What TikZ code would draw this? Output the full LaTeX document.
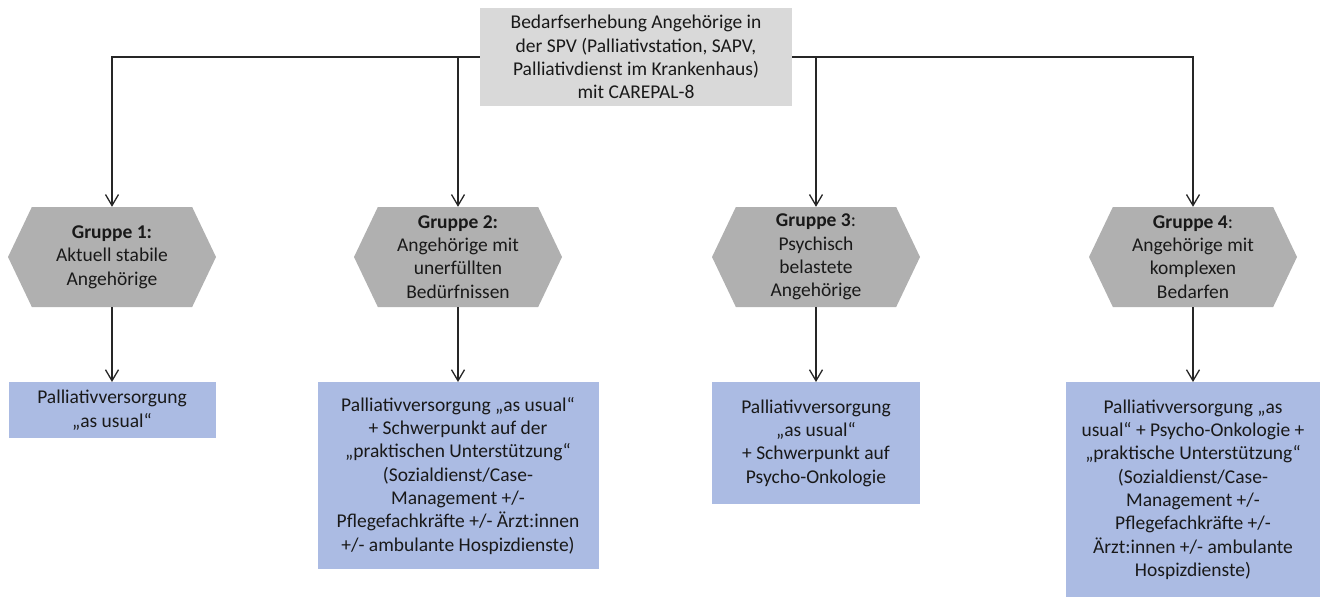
\documentclass[tikz,border=0pt]{standalone}
\usepackage{fontspec}
\setmainfont{Carlito}
\usetikzlibrary{arrows.meta,shapes.symbols}
\definecolor{topgray}{RGB}{217,217,217}
\definecolor{hexgray}{RGB}{176,176,176}
\definecolor{carebl}{RGB}{171,187,227}
\definecolor{txt}{RGB}{25,25,25}
\begin{document}
\begin{tikzpicture}[x=1pt,y=-1pt,
  every node/.style={font=\fontsize{19.5}{23.3}\selectfont, text=txt, align=center, inner sep=0pt},
  headbox/.style={fill=topgray, minimum width=312pt, minimum height=98pt},
  grouphex/.style={shape=signal, signal to=west and east, signal pointer angle=129,
    fill=hexgray, minimum width=208pt, minimum height=100pt},
  carebox/.style={fill=carebl, anchor=north},
  link/.style={line width=1.3pt, draw=black!85, -{Straight Barb[length=11pt,width=13pt]}}
]
\useasboundingbox (0,0) rectangle (1321,599);

% survey box at the top
\node[headbox] (top) at (636,57) {Bedarfserhebung Angehörige in\\der SPV (Palliativstation, SAPV,\\Palliativdienst im Krankenhaus)\\mit CAREPAL-8};

% four groups
\node[grouphex] (g1) at (112,257) {\textbf{Gruppe 1:}\\Aktuell stabile\\Angehörige};
\node[grouphex] (g2) at (458,257) {\textbf{Gruppe 2:}\\Angehörige mit\\unerfüllten\\Bedürfnissen};
\node[grouphex] (g3) at (816,257) {\textbf{Gruppe 3}:\\Psychisch\\belastete\\Angehörige};
\node[grouphex] (g4) at (1193,257) {\textbf{Gruppe 4}:\\Angehörige mit\\komplexen\\Bedarfen};

% care offered to each group
\node[carebox, minimum width=207pt, minimum height=56pt] (b1) at (112,382) {Palliativversorgung\\„as usual“};
\node[carebox, minimum width=281pt, minimum height=187pt] (b2) at (458,382) {Palliativversorgung „as usual“\\+ Schwerpunkt auf der\\„praktischen Unterstützung“\\(Sozialdienst/Case-\\Management +/-\\Pflegefachkräfte +/- Ärzt:innen\\+/- ambulante Hospizdienste)};
\node[carebox, minimum width=208pt, minimum height=122pt] (b3) at (816,382) {Palliativversorgung\\„as usual“\\+ Schwerpunkt auf\\Psycho-Onkologie};
\node[carebox, minimum width=254pt, minimum height=215pt] (b4) at (1193,382) {Palliativversorgung „as\\usual“ + Psycho-Onkologie +\\„praktische Unterstützung“\\(Sozialdienst/Case-\\Management +/-\\Pflegefachkräfte +/-\\Ärzt:innen +/- ambulante\\Hospizdienste)};

% branches from the survey to the groups
\draw[link] (top.west) -| (g1.north);
\draw[link] (top.west) -| (g2.north);
\draw[link] (top.east) -| (g3.north);
\draw[link] (top.east) -| (g4.north);

% groups to their care
\foreach \i in {1,...,4} \draw[link] (g\i.south) -- (b\i.north);
\end{tikzpicture}
\end{document}
